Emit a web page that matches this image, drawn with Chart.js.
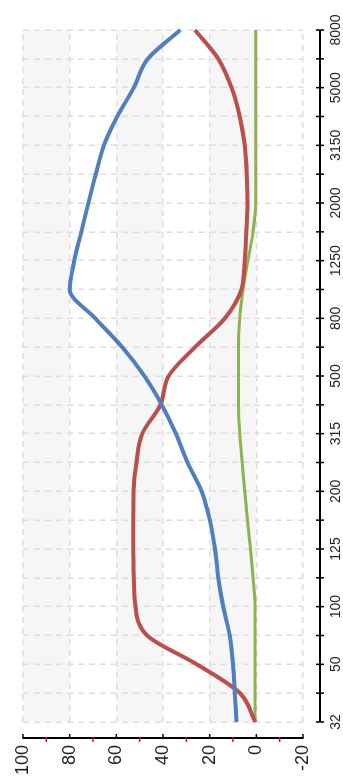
<!DOCTYPE html>
<html>
<head>
<meta charset="utf-8">
<script src="https://cdn.jsdelivr.net/npm/chart.js@4/dist/chart.umd.min.js"></script>
<style>
  html, body { margin: 0; padding: 0; background: #fff; overflow: hidden; }
  body { width: 343px; height: 778px; position: relative; }
  #wrap { position: absolute; left: 0; top: 0; width: 778px; height: 343px;
          transform-origin: 0 0; transform: translateY(778px) rotate(-90deg); }
</style>
</head>
<body>
<div id="wrap"><canvas id="c" width="778" height="343"></canvas></div>
<script>
// Tick labels of the 1/3-octave frequency axis (as printed; blank = unlabelled tick)
const tickLabels = ['32','','50','','100','','125','','200','','315','','500','','800','','1250','','2000','','3150','','5000','','8000'];
// Series values, one per frequency band
const seriesBlue  = [8.5, 9.2, 10, 11.4, 14.2, 16.3, 17.7, 19.9, 23.4, 29.5, 34.5, 40.5, 48, 57.5, 69, 80, 78, 75, 72, 68.8, 65.3, 59.6, 52.5, 46.5, 32.6];
const seriesRed   = [0.5, 7, 25.5, 46.8, 51.8, 52.5, 52.8, 52.8, 52.6, 51.4, 48.9, 41.1, 37.6, 26.3, 13.5, 6.4, 5, 4.3, 3.8, 4.1, 5, 7.1, 10.6, 16.3, 26.3];
const seriesGreen = [0.6, 0.6, 0.6, 0.6, 0.6, 1.4, 2.5, 3.8, 5, 6, 7.1, 7.6, 7.6, 7.6, 7.1, 5.7, 3.6, 1.4, 0.3, 0.3, 0.3, 0.3, 0.3, 0.3, 0.3];
// Value axis
const valueMin = -20, valueMax = 100, valueStep = 20;

const bandPlugin = {
  id: 'bands',
  beforeDraw(chart) {
    const {ctx, chartArea: a, scales: {y}} = chart;
    ctx.save();
    ctx.fillStyle = '#ffffff';
    ctx.fillRect(0, 0, chart.width, chart.height);
    ctx.fillStyle = '#f6f6f6';
    for (let v = valueMax; v > valueMin; v -= 2 * valueStep) {
      const t = y.getPixelForValue(v), b = y.getPixelForValue(v - valueStep);
      ctx.fillRect(a.left, t, a.right - a.left, b - t);
    }
    ctx.restore();
  }
};

const axisPlugin = {
  id: 'axes',
  afterDraw(chart) {
    const {ctx, chartArea: a, scales: {x, y}} = chart;
    ctx.save();
    ctx.strokeStyle = '#000';
    ctx.lineWidth = 2;
    // category axis, offset below the plot
    const ay = a.bottom + 17;
    ctx.beginPath();
    ctx.moveTo(x.getPixelForValue(0), ay);
    ctx.lineTo(x.getPixelForValue(tickLabels.length - 1), ay);
    ctx.stroke();
    ctx.lineWidth = 1.5;
    for (let i = 0; i < tickLabels.length; i++) {
      const px = x.getPixelForValue(i);
      ctx.beginPath(); ctx.moveTo(px, ay - 4); ctx.lineTo(px, ay + 4); ctx.stroke();
    }
    // value axis, offset left of the plot
    const ax = a.left - 16;
    ctx.lineWidth = 2;
    ctx.beginPath();
    ctx.moveTo(ax, y.getPixelForValue(valueMax));
    ctx.lineTo(ax, y.getPixelForValue(valueMin));
    ctx.stroke();
    ctx.lineWidth = 1.5;
    for (let v = valueMin; v <= valueMax; v += valueStep) {
      const py = y.getPixelForValue(v);
      ctx.strokeStyle = '#000';
      ctx.beginPath(); ctx.moveTo(ax - 1, py); ctx.lineTo(ax + 4, py); ctx.stroke();
      if (v < valueMax) {
        const pm = y.getPixelForValue(v + valueStep / 2);
        ctx.strokeStyle = '#ff0000';
        ctx.beginPath(); ctx.moveTo(ax - 4, pm); ctx.lineTo(ax + 1, pm); ctx.stroke();
      }
    }
    ctx.restore();
  }
};

new Chart(document.getElementById('c'), {
  type: 'line',
  data: {
    labels: tickLabels,
    datasets: [
      { data: seriesBlue,  borderColor: '#4F7FBC', borderWidth: 4 },
      { data: seriesRed,   borderColor: '#BA4F4C', borderWidth: 4 },
      { data: seriesGreen, borderColor: '#8DB350', borderWidth: 3 }
    ]
  },
  options: {
    responsive: false,
    animation: false,
    events: [],
    layout: { padding: { top: 23, right: 30, left: 0, bottom: 0 } },
    elements: { point: { radius: 0 }, line: { cubicInterpolationMode: 'monotone' } },
    plugins: { legend: { display: false }, tooltip: { enabled: false } },
    scales: {
      x: {
        type: 'category',
        offset: false,
        grid: { color: '#dedede', lineWidth: 1.5, drawTicks: true, tickLength: 25, tickColor: 'rgba(0,0,0,0)' },
        border: { display: false, dash: [6, 5] },
        ticks: { autoSkip: false, maxRotation: 0, minRotation: 0, padding: 0,
                 color: '#222', font: { family: 'Liberation Sans', size: 14 } },
        afterFit(s) { s.height = 40; }
      },
      y: {
        min: valueMin, max: valueMax,
        grid: { color: '#dedede', lineWidth: 1.5, drawTicks: true, tickLength: 23, tickColor: 'rgba(0,0,0,0)' },
        border: { display: false, dash: [6, 5] },
        ticks: { stepSize: valueStep, padding: 0, color: '#222',
                 font: { family: 'Liberation Sans', size: 18 } },
        afterFit(s) { s.width = 56; }
      }
    }
  },
  plugins: [bandPlugin, axisPlugin]
});
</script>
</body>
</html>
